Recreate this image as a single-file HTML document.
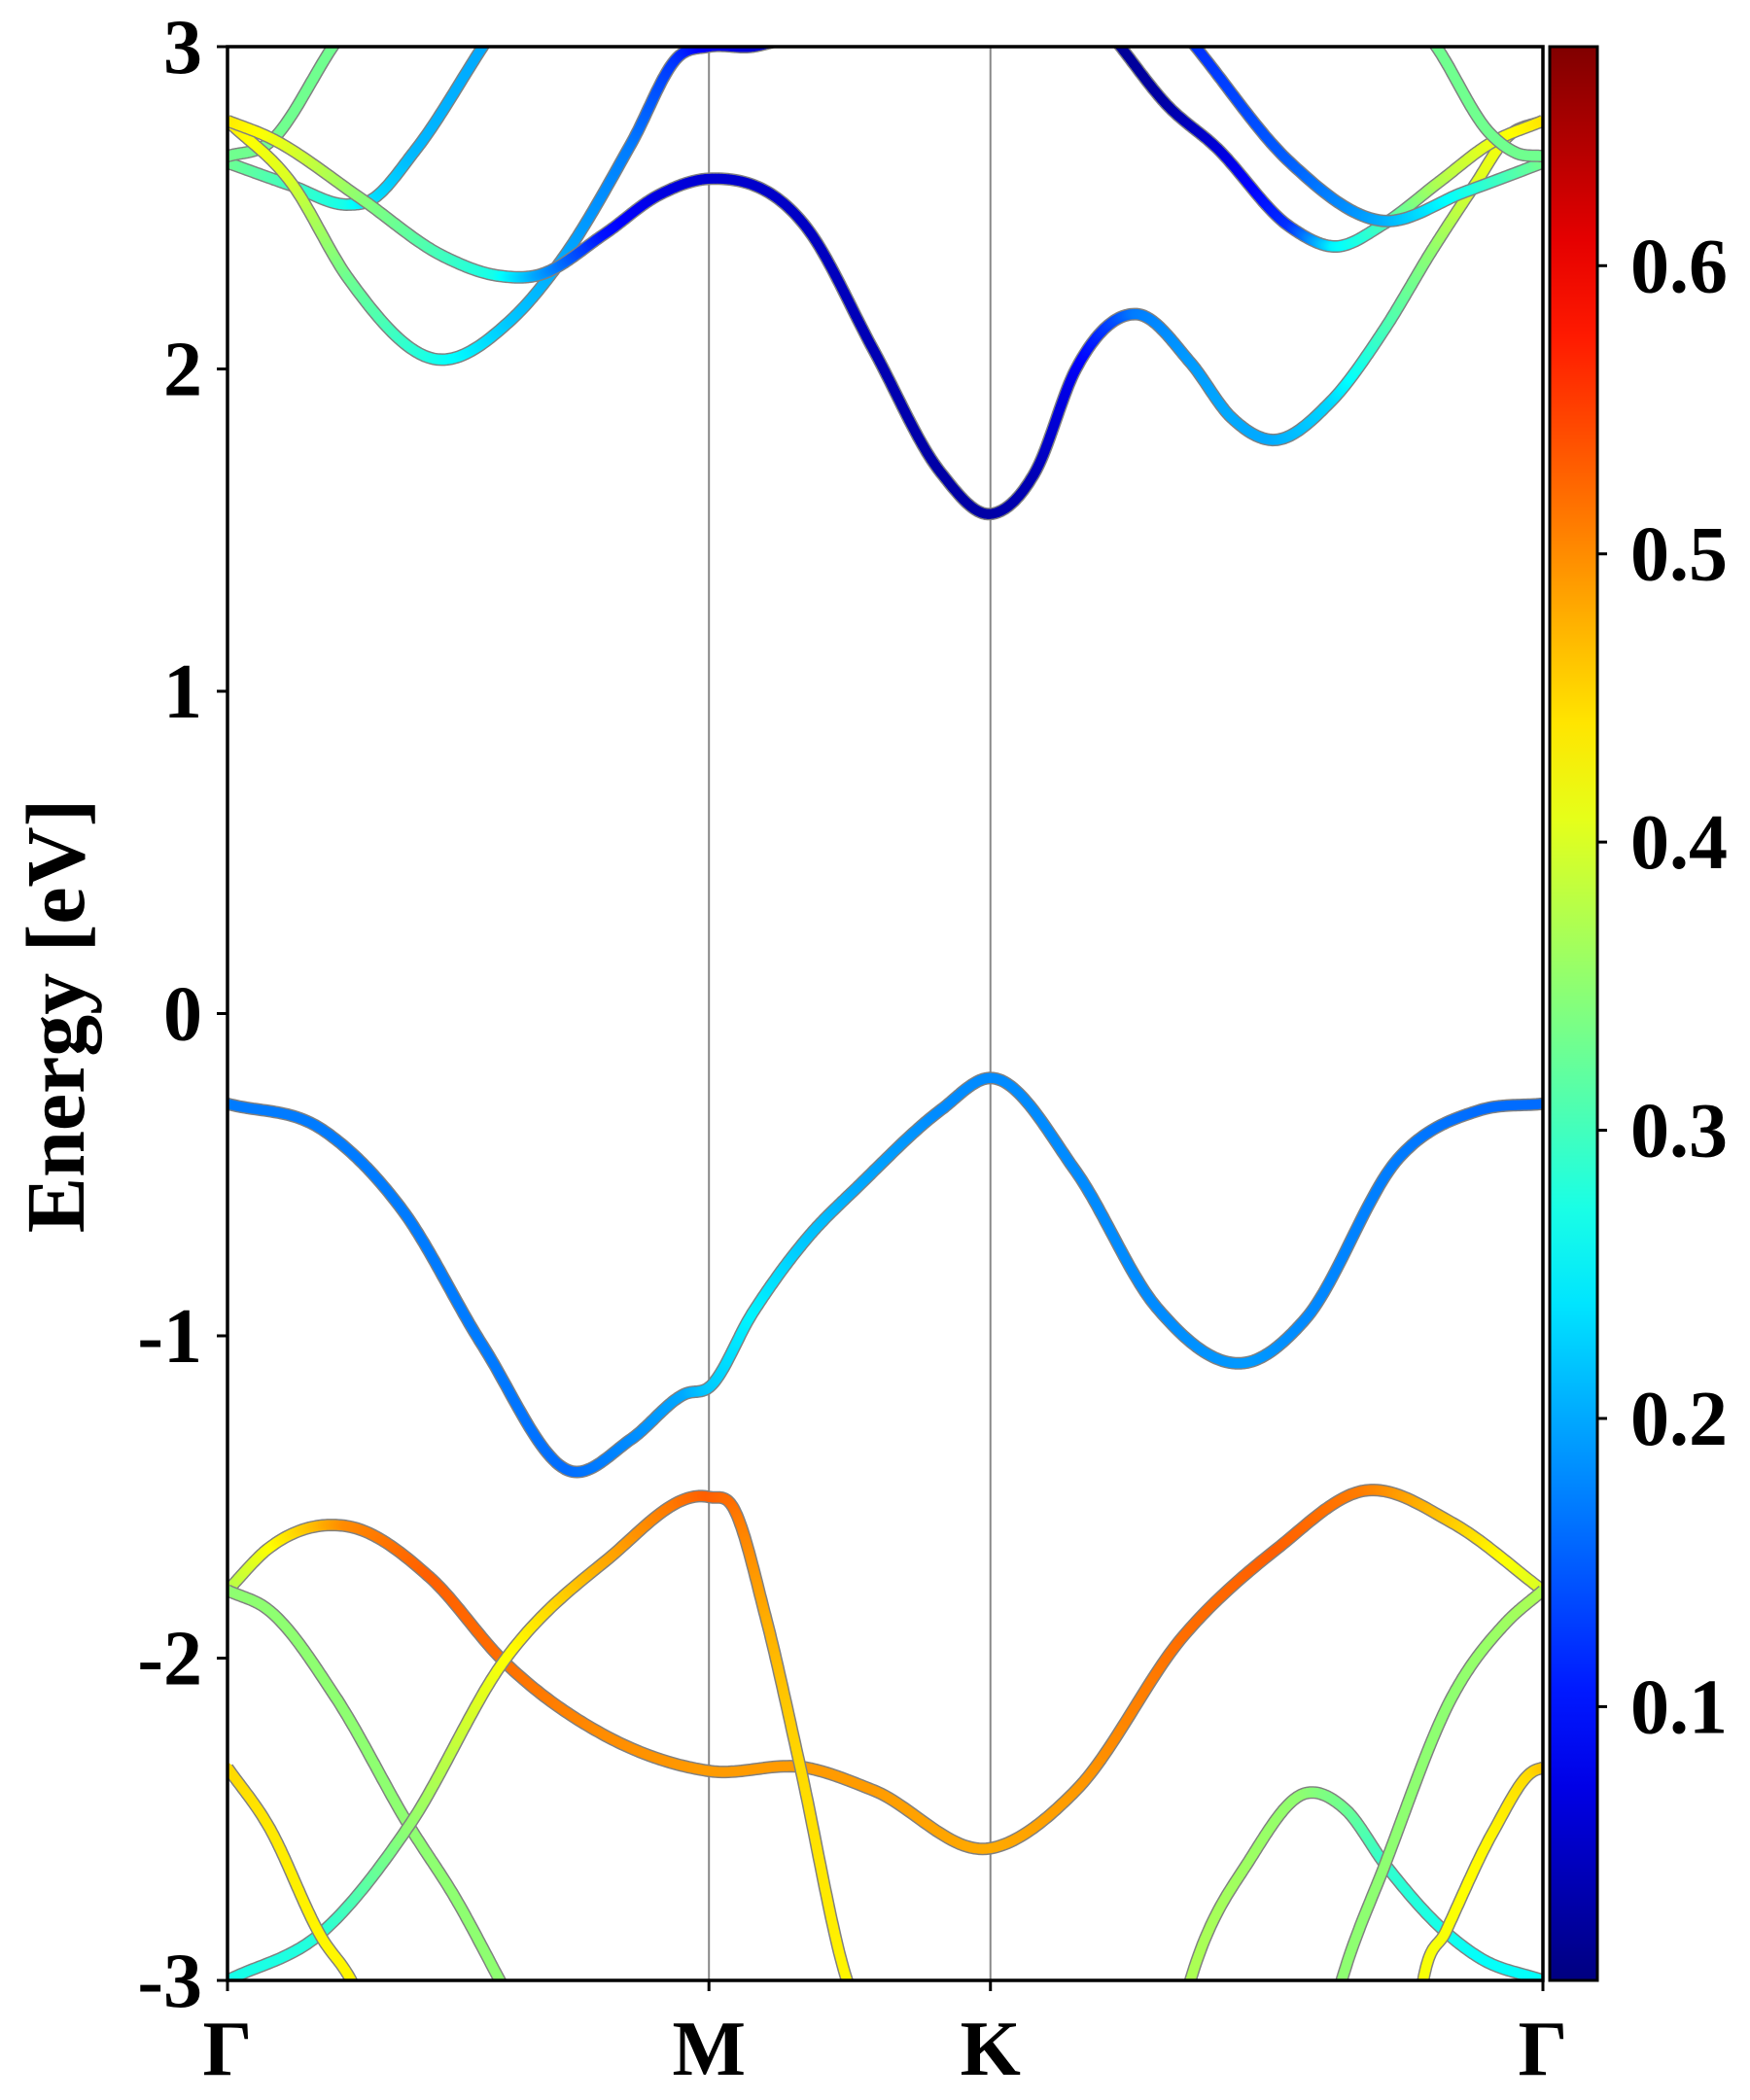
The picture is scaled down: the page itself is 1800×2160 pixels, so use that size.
<!DOCTYPE html>
<html><head><meta charset="utf-8"><style>
html,body{margin:0;padding:0;background:#fff}
svg{display:block}
text{font-family:"Liberation Serif","Times New Roman",serif;font-weight:700;fill:#000}
</style></head><body>
<svg id="chart" width="1800" height="2160" viewBox="0 0 1800 2160" xmlns="http://www.w3.org/2000/svg">
<defs><clipPath id="plotclip"><rect x="234" y="48" width="1353" height="1989"/></clipPath>
<linearGradient id="jetgrad" x1="0" y1="1" x2="0" y2="0"></linearGradient></defs>
<g id="bands" clip-path="url(#plotclip)"></g>
<g id="axes"></g>
</svg>
<script>
// ---- data ----
const kTickLabels = ["Γ","M","K","Γ"];
const kTickPos = [0, 0.366, 0.580, 1];
const eTicks = [-3,-2,-1,0,1,2,3];
const cbTicks = [0.1,0.2,0.3,0.4,0.5,0.6];
const cbMin = 0.005, cbMax = 0.676;

const c1K=[0,0.048,0.092,0.107,0.143,0.194,0.21];
const c1E=[2.64,2.57,2.51,2.52,2.68,3.0,3.1];
const c1W=[0.33,0.3,0.27,0.24,0.21,0.2,0.2];
const c5K=[0,0.031,0.08,0.10];
const c5E=[2.66,2.70,3.0,3.12];
const c5W=[0.33,0.33,0.33,0.33];
const c3K=[0,0.048,0.092,0.159,0.215,0.256,0.307,0.343,0.366,0.399,0.42];
const c3E=[2.77,2.58,2.28,2.03,2.15,2.35,2.7,2.97,3.0,3.0,3.02];
const c3W=[0.44,0.4,0.33,0.27,0.22,0.2,0.17,0.12,0.08,0.06,0.05];
const c2K=[0,0.031,0.101,0.164,0.205,0.235,0.287,0.328,0.366,0.440,0.491,0.542,0.580,0.614,0.645,0.691,0.732,0.763,0.793,0.839,0.879,0.916,0.948,0.973,1];
const c2E=[2.77,2.72,2.53,2.35,2.29,2.29,2.42,2.54,2.59,2.44,2.06,1.68,1.55,1.68,2.0,2.17,2.02,1.85,1.78,1.9,2.12,2.37,2.57,2.72,2.77];
const c2W=[0.44,0.42,0.35,0.3,0.27,0.2,0.1,0.07,0.06,0.05,0.04,0.03,0.03,0.04,0.08,0.17,0.19,0.2,0.2,0.23,0.3,0.35,0.4,0.42,0.44];
const r1K=[0.66,0.679,0.714,0.751,0.808,0.842,0.879,0.921,0.960,1];
const r1E=[3.1,3.0,2.82,2.69,2.44,2.38,2.45,2.58,2.70,2.77];
const r1W=[0.02,0.02,0.03,0.06,0.12,0.25,0.3,0.37,0.41,0.44];
const r2K=[0.72,0.736,0.808,0.877,0.941,1];
const r2E=[3.08,3.0,2.64,2.46,2.55,2.64];
const r2W=[0.12,0.12,0.15,0.2,0.27,0.33];
const r3K=[0.905,0.919,0.960,0.98,1];
const r3E=[3.08,3.0,2.73,2.67,2.66];
const r3W=[0.33,0.33,0.33,0.33,0.33];
const v1K=[0,0.072,0.133,0.194,0.261,0.307,0.348,0.366,0.399,0.440,0.481,0.542,0.580,0.645,0.706,0.778,0.819,0.890,0.952,1];
const v1E=[-0.28,-0.36,-0.61,-1.03,-1.42,-1.32,-1.18,-1.16,-0.93,-0.70,-0.53,-0.30,-0.20,-0.49,-0.91,-1.08,-0.95,-0.45,-0.30,-0.28];
const v1W=[0.17,0.17,0.17,0.17,0.16,0.18,0.2,0.22,0.25,0.22,0.2,0.18,0.18,0.18,0.18,0.19,0.18,0.17,0.16,0.16];
const v2K=[0,0.031,0.090,0.154,0.210,0.287,0.366,0.440,0.491,0.580,0.645,0.727,0.798,0.865,0.931,1];
const v2E=[-1.79,-1.66,-1.59,-1.75,-2.01,-2.24,-2.35,-2.34,-2.41,-2.59,-2.41,-1.93,-1.66,-1.48,-1.58,-1.79];
const v2W=[0.37,0.42,0.5,0.53,0.52,0.5,0.49,0.49,0.49,0.48,0.49,0.52,0.53,0.51,0.46,0.4];
const v3K=[0,0.031,0.082,0.138,0.174,0.207,0.22];
const v3E=[-1.79,-1.85,-2.12,-2.52,-2.75,-3.0,-3.1];
const v3W=[0.35,0.35,0.35,0.35,0.35,0.35,0.35];
const v4K=[0,0.072,0.138,0.210,0.287,0.366,0.384,0.409,0.435,0.471,0.48];
const v4E=[-3.0,-2.85,-2.52,-2.01,-1.70,-1.50,-1.53,-1.87,-2.33,-3.0,-3.1];
const v4W=[0.27,0.28,0.35,0.42,0.48,0.53,0.52,0.48,0.45,0.43,0.43];
const v5K=[0,0.031,0.072,0.094,0.10];
const v5E=[-2.34,-2.52,-2.87,-3.0,-3.05];
const v5W=[0.45,0.44,0.43,0.43,0.43];
const v6K=[0.725,0.732,0.778,0.819,0.850,0.880,0.926,0.952,1];
const v6E=[-3.1,-3.0,-2.62,-2.42,-2.47,-2.64,-2.85,-2.93,-3.0];
const v6W=[0.37,0.37,0.36,0.35,0.33,0.29,0.27,0.26,0.26];
const v7K=[0.84,0.847,0.880,0.931,0.972,1];
const v7E=[-3.1,-3.0,-2.64,-2.12,-1.89,-1.79];
const v7W=[0.35,0.35,0.35,0.35,0.36,0.37];
const v8K=[0.905,0.909,0.926,0.962,0.993,1];
const v8E=[-3.1,-3.0,-2.85,-2.54,-2.35,-2.34];
const v8W=[0.42,0.42,0.42,0.43,0.45,0.46];

const bandList=[
 ["band-c1",c1K,c1E,c1W],["band-c5",c5K,c5E,c5W],["band-c3",c3K,c3E,c3W],["band-c2",c2K,c2E,c2W],
 ["band-r1",r1K,r1E,r1W],["band-r2",r2K,r2E,r2W],["band-r3",r3K,r3E,r3W],
 ["band-v1",v1K,v1E,v1W],["band-v2",v2K,v2E,v2W],["band-v3",v3K,v3E,v3W],["band-v4",v4K,v4E,v4W],
 ["band-v5",v5K,v5E,v5W],["band-v6",v6K,v6E,v6W],["band-v7",v7K,v7E,v7W],["band-v8",v8K,v8E,v8W]];

// ---- layout ----
const L=234,R=1587,T=48,B=2037;
const xS=k=>L+k*(R-L);
const yS=e=>B-(e+3)/6*(B-T);
const CBL=1594,CBR=1643;
const cbY=v=>B-(v-cbMin)/(cbMax-cbMin)*(B-T);
const NS="http://www.w3.org/2000/svg";
const FONT='"Liberation Serif","Times New Roman",serif';
function jet(v){
  let t=(v-cbMin)/(cbMax-cbMin); t=Math.max(0,Math.min(1,t));
  const f=x=>Math.max(0,Math.min(1,x));
  const r=f(Math.min(4*t-1.5,-4*t+4.5)),g=f(Math.min(4*t-0.5,-4*t+3.5)),b=f(Math.min(4*t+0.5,-4*t+2.5));
  return `rgb(${Math.round(r*255)},${Math.round(g*255)},${Math.round(b*255)})`;
}
// cubic Hermite interpolation in k with spacing-aware tangents
function sample(K,E,W){
  const n=K.length,m=new Array(n);
  for(let i=0;i<n;i++){
    if(i===0) m[i]=(E[1]-E[0])/(K[1]-K[0]);
    else if(i===n-1) m[i]=(E[n-1]-E[n-2])/(K[n-1]-K[n-2]);
    else{
      const h0=K[i]-K[i-1],h1=K[i+1]-K[i];
      const d0=(E[i]-E[i-1])/h0,d1=(E[i+1]-E[i])/h1;
      m[i]=(d0*h1+d1*h0)/(h0+h1);
    }
  }
  const pts=[];
  for(let i=0;i<n-1;i++){
    const h=K[i+1]-K[i],steps=30;
    for(let s=0;s<steps;s++){
      const t=s/steps,t2=t*t,t3=t2*t;
      const e=(2*t3-3*t2+1)*E[i]+(t3-2*t2+t)*h*m[i]+(-2*t3+3*t2)*E[i+1]+(t3-t2)*h*m[i+1];
      pts.push([K[i]+h*t,e,W[i]+(W[i+1]-W[i])*t]);
    }
  }
  pts.push([K[n-1],E[n-1],W[n-1]]);
  return pts;
}
const gB=document.getElementById('bands');
const gA=document.getElementById('axes');
function mk(tag,attrs,parent){const el=document.createElementNS(NS,tag);for(const a in attrs)el.setAttribute(a,attrs[a]);parent.appendChild(el);return el;}

[kTickPos[1],kTickPos[2]].forEach(k=>{
  const ln=mk('line',{x1:xS(k),x2:xS(k),y1:T,y2:B,stroke:'#888','stroke-width':2},gB);
  
  
});

bandList.forEach(b=>{
  const pts=sample(b[1],b[2],b[3]);
  const g=mk('g',{},gB);
  
  
  const d=pts.map((p,i)=>(i?'L':'M')+xS(p[0]).toFixed(1)+' '+yS(p[1]).toFixed(1)).join(' ');
  mk('path',{d:d,fill:'none',stroke:'#808080','stroke-width':13,'stroke-linejoin':'round'},g);
  for(let i=0;i<pts.length-1;i++){
    const p=pts[i],q=pts[i+1];
    mk('line',{x1:xS(p[0]).toFixed(1),y1:yS(p[1]).toFixed(1),x2:xS(q[0]).toFixed(1),y2:yS(q[1]).toFixed(1),stroke:jet((p[2]+q[2])/2),'stroke-width':10,'stroke-linecap':'round'},g);
  }
});

const fr=mk('rect',{x:L,y:T,width:R-L,height:B-T,fill:'none',stroke:'#000','stroke-width':3.5},gA);



eTicks.forEach(e=>{
  const tk=mk('line',{x1:L-11,x2:L,y1:yS(e),y2:yS(e),stroke:'#000','stroke-width':3},gA);
  
  
  const tx=mk('text',{x:L-26,y:yS(e)+27,'text-anchor':'end','font-size':80,'font-family':FONT,'font-weight':'bold'},gA);
  tx.textContent=String(e);
  
  
});
kTickPos.forEach((k,i)=>{
  const tk=mk('line',{x1:xS(k),x2:xS(k),y1:B,y2:B+11,stroke:'#000','stroke-width':3},gA);
  
  
  const tx=mk('text',{x:xS(k),y:B+97,'text-anchor':'middle','font-size':80,'font-family':FONT,'font-weight':'bold'},gA);
  tx.textContent=kTickLabels[i];
  
  
});
const yt=mk('text',{x:0,y:0,'text-anchor':'middle','font-size':86,'font-family':FONT,'font-weight':'bold',transform:'translate(86,1045) rotate(-90)'},gA);
yt.textContent='Energy [eV]';



const grad=document.getElementById('jetgrad');
for(let i=0;i<=20;i++){
  const v=cbMin+(cbMax-cbMin)*i/20;
  mk('stop',{offset:(i/20),'stop-color':jet(v)},grad);
}
const cb=mk('rect',{x:CBL,y:T,width:CBR-CBL,height:B-T,fill:'url(#jetgrad)',stroke:'#000','stroke-width':3},gA);


cbTicks.forEach(v=>{
  const tk=mk('line',{x1:CBR,x2:CBR+10,y1:cbY(v),y2:cbY(v),stroke:'#000','stroke-width':3},gA);
  
  
  const tx=mk('text',{x:CBR+34,y:cbY(v)+27,'font-size':80,'font-family':FONT,'font-weight':'bold'},gA);
  tx.textContent=v.toFixed(1);
  
  
});
</script>
</body></html>
